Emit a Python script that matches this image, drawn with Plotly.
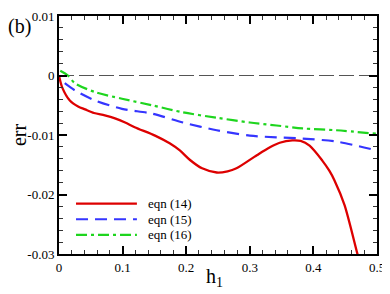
import plotly.graph_objects as go

# eqn (14)
x14 = [0.0, 0.005, 0.017, 0.03, 0.041, 0.055, 0.072, 0.088, 0.104, 0.119, 0.151, 0.174,
       0.19, 0.206, 0.225, 0.248, 0.265, 0.279, 0.311, 0.331, 0.347, 0.367, 0.38, 0.394,
       0.414, 0.425, 0.433, 0.449, 0.469, 0.472]
y14 = [0.0, -0.002, -0.0042, -0.0052, -0.0057, -0.0063, -0.0067, -0.0072, -0.0079,
       -0.0087, -0.0101, -0.0114, -0.0126, -0.0142, -0.0156, -0.0163, -0.0161, -0.0156,
       -0.0134, -0.0121, -0.0113, -0.0109, -0.011, -0.0118, -0.0143, -0.016, -0.0176,
       -0.0218, -0.0299, -0.031]
# eqn (15)
x15 = [0.009, 0.025, 0.057, 0.099, 0.146, 0.195, 0.248, 0.3, 0.342, 0.383, 0.436, 0.468, 0.5]
y15 = [-0.0013, -0.0025, -0.0042, -0.0056, -0.0064, -0.0079, -0.0092, -0.0101, -0.0104,
       -0.0106, -0.0111, -0.0118, -0.0126]
# eqn (16)
x16 = [0.002, 0.014, 0.025, 0.057, 0.099, 0.146, 0.195, 0.248, 0.3, 0.342, 0.383, 0.436, 0.5]
y16 = [0.0008, 0.0, -0.0013, -0.0028, -0.0039, -0.005, -0.0062, -0.0071, -0.0079,
       -0.0084, -0.0089, -0.0092, -0.0098]

names = ["eqn (14)", "eqn (15)", "eqn (16)"]
xticks = [0, 0.1, 0.2, 0.3, 0.4, 0.5]
xlabels = ["0", "0.1", "0.2", "0.3", "0.4", "0.5"]
yticks = [0.01, 0, -0.01, -0.02, -0.03]
ylabels = ["0.01", "0", "-0.01", "-0.02", "-0.03"]

FONT = "Liberation Serif"
styles = [
    dict(color="#dd0000", width=2.3),
    dict(color="#3535ff", width=2.2, dash="12px,7px"),
    dict(color="#1ed51e", width=2.2, dash="11px,4px,3px,4px"),
]

fig = go.Figure()
for xs, ys, nm, st in zip([x14, x15, x16], [y14, y15, y16], names, styles):
    fig.add_trace(go.Scatter(x=xs, y=ys, mode="lines", name=nm, showlegend=False,
                             line=dict(shape="spline", smoothing=0.8, **st)))

fig.add_shape(type="line", xref="x", yref="y", x0=0, x1=0.5, y0=0, y1=0,
              line=dict(color="#555555", width=1.2, dash="15px,5px"), layer="below")

# legend drawn inside the plot (lower left)
leg_y = [0.212, 0.146, 0.080]
for nm, st, ly in zip(names, styles, leg_y):
    fig.add_shape(type="line", xref="paper", yref="paper", x0=0.0535, x1=0.245,
                  y0=ly, y1=ly, line=st)
    fig.add_annotation(text=nm, xref="paper", yref="paper", x=0.275, y=ly,
                       xanchor="left", yanchor="middle", showarrow=False,
                       font=dict(family=FONT, size=13, color="black"))

axis_common = dict(showgrid=False, zeroline=False, showline=True, linecolor="black",
                   linewidth=2, mirror="allticks", ticks="inside", ticklen=8, tickwidth=1.5,
                   tickcolor="black", automargin=False,
                   tickfont=dict(family=FONT, size=13, color="black"))

fig.update_xaxes(range=[0, 0.5], tickvals=xticks, ticktext=xlabels,
                 minor=dict(dtick=0.02, ticks="inside", ticklen=4, tickwidth=1, tickcolor="#333"),
                 **axis_common)
fig.update_yaxes(range=[-0.03, 0.01], tickvals=yticks, ticktext=ylabels,
                 minor=dict(dtick=0.002, ticks="inside", ticklen=4, tickwidth=1, tickcolor="#333"),
                 title=dict(text="err", font=dict(family=FONT, size=20, color="black"),
                            standoff=0),
                 **axis_common)

fig.add_annotation(text="(b)", xref="paper", yref="paper", x=-0.123, y=1.0, yshift=3,
                   xanchor="center", yanchor="top", showarrow=False,
                   font=dict(family=FONT, size=20, color="black"))
fig.add_annotation(text="h<sub>1</sub>", xref="paper", yref="paper", x=0.49, y=-0.097,
                   xanchor="center", yanchor="middle", showarrow=False,
                   font=dict(family=FONT, size=20, color="black"))

# the page body adds an 8px offset, so the figure is sized to compensate
fig.update_layout(
    template="none",
    width=382, height=286,
    margin=dict(l=51, r=13, t=8, b=40, autoexpand=False),
    plot_bgcolor="white", paper_bgcolor="white",
    font=dict(family=FONT, color="black"),
    showlegend=False,
)

fig.write_html("out.html")
